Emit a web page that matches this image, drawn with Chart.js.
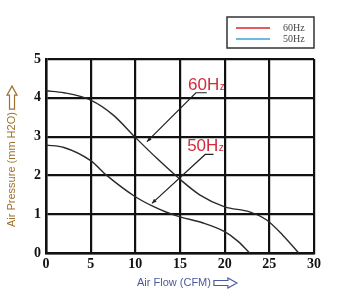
<!DOCTYPE html>
<html>
<head>
<meta charset="utf-8">
<script src="https://cdn.jsdelivr.net/npm/chart.js@4/dist/chart.umd.min.js"></script>
<style>
  html, body { margin: 0; padding: 0; background: #fff; }
  #c { display: block; }
</style>
</head>
<body>
<canvas id="c" width="350" height="300"></canvas>
<script>
// ---- data ----
const seriesLabels = ['60Hz', '50Hz'];
const legendColors = ['#d9262b', '#3aa3d8'];

const flow60 =     [0,    2,    5,    7.5,  10,   12.5, 15,  17.2, 20,   22.8, 24.7, 26.5, 28.3];
const pressure60 = [4.18, 4.13, 3.94, 3.56, 2.98, 2.42, 1.9, 1.5,  1.19, 1.06, 0.85, 0.46, 0];

const flow50 =     [0,    2,    5,    6.8, 10,   12,  13.5, 15,   17.5, 20,   21.5, 22.8];
const pressure50 = [2.78, 2.72, 2.38, 2.0, 1.45, 1.2, 1.05, 0.93, 0.78, 0.55, 0.3,  0];

const xTickValues = [0, 5, 10, 15, 20, 25, 30];
const yTickValues = [0, 1, 2, 3, 4, 5];

const xTitle = 'Air Flow (CFM)';
const yTitle = 'Air Pressure (mm H2O)';

// callout annotations (data coordinates)
const callouts = [
  { text: '60H', sub: 'z', label: [15.9, 4.2], tip: [11.3, 2.87], elbow: [16.78, 4.13], tail: [18.0, 4.13] },
  { text: '50H', sub: 'z', label: [15.8, 2.63], tip: [11.86, 1.28], elbow: [17.82, 2.54], tail: [18.75, 2.54] }
];

function toPoints(xs, ys) { return xs.map((x, i) => ({ x: x, y: ys[i] })); }

function outlineArrow(ctx, x, y, len, thick, dir) {
  const shaft = thick * 0.5;
  const headL = thick * 0.9;
  const pts = [
    [0, -shaft / 2], [len - headL, -shaft / 2], [len - headL, -thick / 2],
    [len, 0], [len - headL, thick / 2], [len - headL, shaft / 2], [0, shaft / 2]
  ];
  ctx.save();
  ctx.translate(x, y);
  if (dir === 'up') ctx.rotate(-Math.PI / 2);
  ctx.beginPath();
  pts.forEach((p, i) => i ? ctx.lineTo(p[0], p[1]) : ctx.moveTo(p[0], p[1]));
  ctx.closePath();
  ctx.fillStyle = '#fff';
  ctx.fill();
  ctx.lineWidth = 1.2;
  ctx.stroke();
  ctx.restore();
}

const decorPlugin = {
  id: 'decor',
  afterDraw(chart) {
    const ctx = chart.ctx;
    const xs = chart.scales.x, ys = chart.scales.y;

    // ---- legend box ----
    ctx.save();
    const lx = 227, ly = 17, lw = 87, lh = 31;
    ctx.strokeStyle = '#333';
    ctx.lineWidth = 1.5;
    ctx.strokeRect(lx, ly, lw, lh);
    ctx.font = '10px "Liberation Serif"';
    ctx.textBaseline = 'middle';
    ctx.textAlign = 'left';
    chart.data.datasets.forEach((ds, i) => {
      const yy = ly + 11 + i * 11;
      ctx.strokeStyle = legendColors[i];
      ctx.lineWidth = 1.4;
      ctx.beginPath();
      ctx.moveTo(lx + 9, yy);
      ctx.lineTo(lx + 43, yy);
      ctx.stroke();
      ctx.fillStyle = '#444';
      ctx.fillText(ds.label, lx + 56, yy);
    });
    ctx.restore();

    // ---- callouts ----
    ctx.save();
    callouts.forEach(c => {
      const tx = xs.getPixelForValue(c.tip[0]), ty = ys.getPixelForValue(c.tip[1]);
      const ex = xs.getPixelForValue(c.elbow[0]), ey = ys.getPixelForValue(c.elbow[1]);
      const fx = xs.getPixelForValue(c.tail[0]), fy = ys.getPixelForValue(c.tail[1]);
      ctx.strokeStyle = '#222';
      ctx.lineWidth = 1.2;
      ctx.beginPath();
      ctx.moveTo(fx, fy);
      ctx.lineTo(ex, ey);
      ctx.lineTo(tx, ty);
      ctx.stroke();
      const ang = Math.atan2(ty - ey, tx - ex);
      ctx.fillStyle = '#222';
      ctx.beginPath();
      ctx.moveTo(tx, ty);
      ctx.lineTo(tx - 5 * Math.cos(ang - 0.4), ty - 5 * Math.sin(ang - 0.4));
      ctx.lineTo(tx - 5 * Math.cos(ang + 0.4), ty - 5 * Math.sin(ang + 0.4));
      ctx.closePath();
      ctx.fill();
      const px = xs.getPixelForValue(c.label[0]), py = ys.getPixelForValue(c.label[1]);
      ctx.fillStyle = '#d42a3c';
      ctx.textBaseline = 'alphabetic';
      ctx.textAlign = 'left';
      ctx.font = '17px "Liberation Sans"';
      ctx.fillText(c.text, px, py);
      const w = ctx.measureText(c.text).width;
      ctx.font = '10px "Liberation Sans"';
      ctx.fillText(c.sub, px + w + 0.5, py);
    });
    ctx.restore();

    // ---- axis titles ----
    ctx.save();
    ctx.font = '11px "Liberation Sans"';
    ctx.textBaseline = 'middle';
    ctx.textAlign = 'left';
    ctx.fillStyle = '#4b5a9a';
    const xtX = 137, xtY = 283;
    ctx.fillText(xTitle, xtX, xtY);
    const xw = ctx.measureText(xTitle).width;
    ctx.strokeStyle = '#4b5a9a';
    outlineArrow(ctx, xtX + xw + 3, xtY, 23, 10, 'right');
    ctx.save();
    ctx.translate(12, 227);
    ctx.rotate(-Math.PI / 2);
    ctx.fillStyle = '#a0712e';
    ctx.fillText(yTitle, 0, 0);
    const yw = ctx.measureText(yTitle).width;
    ctx.restore();
    ctx.strokeStyle = '#a0712e';
    outlineArrow(ctx, 12, 227 - yw - 3, 23, 10, 'up');
    ctx.restore();
  }
};

const gridColor = '#111';

new Chart(document.getElementById('c'), {
  type: 'scatter',
  data: {
    datasets: [
      {
        label: seriesLabels[0],
        data: toPoints(flow60, pressure60),
        showLine: true,
        borderColor: '#2a2a2a',
        borderWidth: 1.4,
        pointRadius: 0,
        cubicInterpolationMode: 'monotone'
      },
      {
        label: seriesLabels[1],
        data: toPoints(flow50, pressure50),
        showLine: true,
        borderColor: '#2a2a2a',
        borderWidth: 1.4,
        pointRadius: 0,
        cubicInterpolationMode: 'monotone'
      }
    ]
  },
  options: {
    responsive: false,
    animation: false,
    layout: { padding: { left: 0, top: 59, right: 36, bottom: 0 } },
    plugins: {
      legend: { display: false },
      tooltip: { enabled: false }
    },
    scales: {
      x: {
        type: 'linear',
        min: xTickValues[0],
        max: xTickValues[xTickValues.length - 1],
        afterBuildTicks: s => { s.ticks = xTickValues.map(v => ({ value: v })); },
        afterFit: s => { s.height = 47; },
        grid: { color: gridColor, lineWidth: 2.2, drawTicks: false },
        border: { color: gridColor, width: 2.5 },
        ticks: {
          padding: 3,
          color: '#111',
          maxRotation: 0,
          font: { family: '"Liberation Serif"', size: 14, weight: 'bold' }
        },
        title: { display: false }
      },
      y: {
        type: 'linear',
        min: yTickValues[0],
        max: yTickValues[yTickValues.length - 1],
        afterBuildTicks: s => { s.ticks = yTickValues.map(v => ({ value: v })); },
        afterFit: s => { s.width = 46; },
        grid: { color: gridColor, lineWidth: 2.2, drawTicks: false },
        border: { color: gridColor, width: 2.5 },
        ticks: {
          padding: 5,
          color: '#111',
          font: { family: '"Liberation Serif"', size: 14, weight: 'bold' }
        },
        title: { display: false }
      }
    }
  },
  plugins: [decorPlugin]
});
</script>
</body>
</html>
